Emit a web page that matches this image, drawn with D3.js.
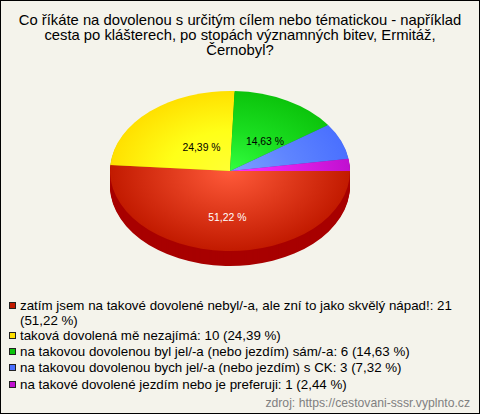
<!DOCTYPE html>
<html><head><meta charset="utf-8">
<script src="https://cdn.jsdelivr.net/npm/d3@7/dist/d3.min.js"></script>
<style>html,body{margin:0;padding:0;background:#f4f3eb}svg{display:block}text{font-family:"Liberation Sans",Arial,sans-serif}</style>
</head><body><svg id="c" width="480" height="414"></svg>
<script>
const titleLines = ["Co říkáte na dovolenou s určitým cílem nebo tématickou - například","cesta po klášterech, po stopách významných bitev, Ermitáž,","Černobyl?"];
const values = [21,10,6,3,1];
const pieLabels = ["51,22 %","24,39 %","14,63 %","",""];
const legendLines = [["zatím jsem na takové dovolené nebyl/-a, ale zní to jako skvělý nápad!: 21","(51,22 %)"],["taková dovolená mě nezajímá: 10 (24,39 %)"],["na takovou dovolenou byl jel/-a (nebo jezdím) sám/-a: 6 (14,63 %)"],["na takovou dovolenou bych jel/-a (nebo jezdím) s CK: 3 (7,32 %)"],["na takové dovolené jezdím nebo je preferuji: 1 (2,44 %)"]];
const inner = ["#ff5a3a","#ffff33","#33ff3f","#7f9fff","#ff33ff"];
const middle = ["#e03a1c","#ffff18","#1ade20","#5f85ff","#e020e8"];
const outer = ["#c21a00","#ffe000","#0cc40c","#4a70ff","#c010d0"];
const sides = ["#a80000","#b09a00","#088a08","#3050b0","#901090"];
const swatch = ["#c21a00","#ffdf00","#0cc40c","#4a70ff","#c010d0"];
const source = "zdroj: https://cestovani-sssr.vyplnto.cz";

const svg = d3.select("#c");
svg.append("rect").attr("x",0.5).attr("y",0.5).attr("width",479).attr("height",413).attr("fill","#f4f3eb").attr("stroke","#000");
const t = svg.append("text").attr("text-anchor","middle").attr("fill","#000").attr("font-size",14.8);
titleLines.forEach((l,i)=>t.append("tspan").attr("x",240).attr("y",25+i*15).text(l));

const cx=230, cy=171, rx=120, ry=80, depth=15;
const defs = svg.append("defs");
values.forEach((v,i)=>{
  const g = defs.append("radialGradient").attr("id","g"+i).attr("gradientUnits","userSpaceOnUse").attr("cx",0).attr("cy",0).attr("r",rx);
  g.append("stop").attr("offset",0).attr("stop-color",inner[i]);
  g.append("stop").attr("offset",0.5).attr("stop-color",middle[i]);
  g.append("stop").attr("offset",1).attr("stop-color",outer[i]);
});
const pie = d3.pie().sort(null).startAngle(Math.PI/2).endAngle(Math.PI*2.5)(values);
const arc = d3.arc().innerRadius(0).outerRadius(rx);
const sy = ry/rx;
d3.range(depth,0,-1).forEach(k=>{
  svg.append("g").attr("transform",`translate(${cx},${cy+k}) scale(1,${sy})`)
    .selectAll("path").data(pie).join("path").attr("d",arc).attr("fill",(d,i)=>sides[i]);
});
const topFace = svg.append("g").attr("transform",`translate(${cx},${cy}) scale(1,${sy})`);
topFace.selectAll("path").data(pie).join("path").attr("d",arc).attr("fill",(d,i)=>`url(#g${i})`);
// how far along each wedge's middle radius its label sits, horizontally and vertically
const labelFracX = [.58,.357,.61,0,0], labelFracY = [.58,.4,.42,0,0];
const unit = d3.arc().innerRadius(rx).outerRadius(rx);
svg.append("g").selectAll("text").data(pie).join("text")
  .attr("text-anchor","middle").attr("font-size",10.4)
  .attr("fill",(d,i)=>i===0?"#fff":"#000")
  .attr("x",(d,i)=>cx+unit.centroid(d)[0]*labelFracX[i]).attr("y",(d,i)=>cy+unit.centroid(d)[1]*sy*labelFracY[i]+3.5)
  .text((d,i)=>pieLabels[i]);

const legendTops = [302,332,348,364,381];
legendLines.forEach((ls,i)=>{
  const y0 = legendTops[i];
  svg.append("rect").attr("x",9.5).attr("y",y0+0.5).attr("width",6).attr("height",6).attr("fill",swatch[i]).attr("stroke","#222");
  ls.forEach((l,j)=>{
    svg.append("text").attr("x",20).attr("y",y0+8+j*15).attr("font-size",13.33).attr("fill","#000").text(l);
  });
});
svg.append("text").attr("x",470).attr("y",407).attr("text-anchor","end").attr("font-size",12.2).attr("fill","#808080").text(source);
</script></body></html>
